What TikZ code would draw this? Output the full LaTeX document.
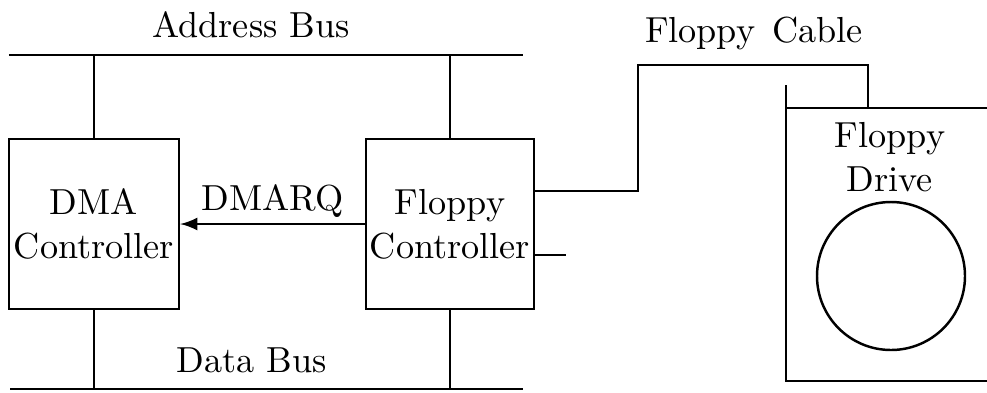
\documentclass[tikz,border=0pt]{standalone}
\usetikzlibrary{arrows}
\begin{document}
\begin{tikzpicture}[line width=0.7pt,
    every node/.style={font=\fontsize{10.3}{12.6}\selectfont},
    unit/.style={draw, minimum width=1.7cm, minimum height=1.7cm, align=center, inner sep=0pt}]
    \useasboundingbox (0,0) rectangle (9.87,-3.92);

    % buses
    \coordinate (abusL) at (0.09,-0.55);
    \coordinate (abusR) at (5.23,-0.55);
    \coordinate (dbusL) at (0.10,-3.89);
    \coordinate (dbusR) at (5.23,-3.89);
    \draw (abusL) -- (abusR);
    \draw (dbusL) -- (dbusR);
    \node (abus) at (2.51,-0.25) {Address Bus};
    \node (dbus) at (2.52,-3.60) {Data Bus};

    % controllers
    \node[unit] (dma) at (0.94,-2.24) {DMA\\Controller};
    \node[unit, minimum width=1.68cm] (fdc) at (4.50,-2.24) {Floppy\\Controller};

    \draw (dma.north) -- (dma.north |- abusL);
    \draw (fdc.north) -- (fdc.north |- abusL);
    \draw (dma.south) -- (dma.south |- dbusL);
    \draw (fdc.south) -- (fdc.south |- dbusL);

    \draw[-latex] (fdc.west) -- (dma.east) node[midway, above, inner sep=1.5pt] (dmarq) {DMARQ};

    % drive
    \draw (7.86,-0.85) -- (7.86,-3.81) -- (9.87,-3.81);
    \draw (7.86,-1.08) -- (9.87,-1.08);
    \coordinate (drvtop) at (8.68,-1.08);
    \node[align=center] (drive) at (8.90,-1.57) {Floppy\\Drive};
    \node[draw, circle, minimum size=1.48cm, inner sep=0pt] (disk) at (8.91,-2.76) {};

    % cable
    \draw ([yshift=0.33cm]fdc.east) -| (6.38,-0.65) -| (drvtop);
    \node (cable) at (7.54,-0.33) {Floppy\hspace{1.5pt} Cable};
    \draw ([yshift=-0.31cm]fdc.east) -- ++(0.31,0);
\end{tikzpicture}
\end{document}
